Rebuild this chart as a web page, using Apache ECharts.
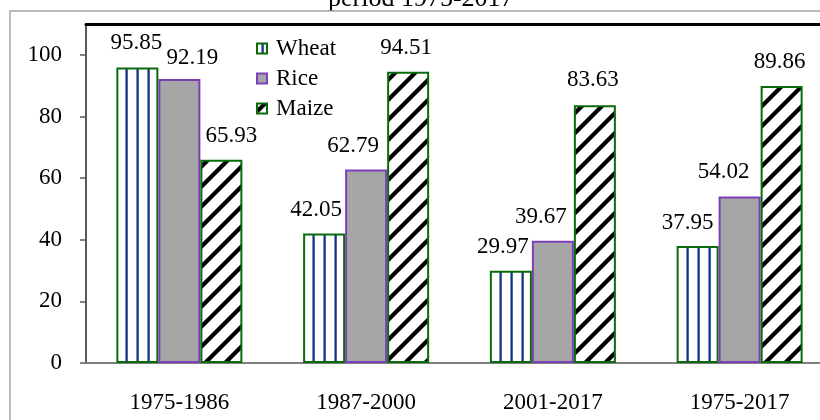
<!DOCTYPE html>
<html>
<head>
<meta charset="utf-8">
<script src="https://cdn.jsdelivr.net/npm/echarts@6/dist/echarts.min.js"></script>
<style>
  html, body { margin: 0; padding: 0; background: #fff; }
  #chart { width: 820px; height: 420px; }
</style>
</head>
<body>
<div id="chart"></div>
<script>
// data
const categories = ['1975-1986', '1987-2000', '2001-2017', '1975-2017'];
const wheat = [95.85, 42.05, 29.97, 37.95];
const rice = [92.19, 62.79, 39.67, 54.02];
const maize = [65.93, 94.51, 83.63, 89.86];
const yTicks = [0, 20, 40, 60, 80, 100];

// label nudges (excel placed some labels by hand)
const wheatOffset = [[-1, -1], [-8, 0], [-8, 0], [-10, 0]];
const riceOffset = [[13, 3], [-13, 0], [-12, 0], [-16, -1]];
const maizeOffset = [[10, 0], [-2, 0], [-2, -2], [-2, -1]];

const FONT = 'Liberation Serif';
const GREEN = '#0b6a0b';
const PURPLE = '#7d3fb8';

// vertical blue stripes
function wheatPattern() {
    let c = document.createElement('canvas');
    c.width = 11;
    c.height = 4;
    let ctx = c.getContext('2d');
    ctx.fillStyle = '#fff';
    ctx.fillRect(0, 0, 11, 4);
    ctx.fillStyle = '#7393cf';
    ctx.fillRect(4, 0, 1, 4);
    ctx.fillStyle = '#1c2f6b';
    ctx.fillRect(5, 0, 1, 4);
    ctx.fillStyle = '#4865a8';
    ctx.fillRect(6, 0, 1, 4);
    return c;
}

// diagonal black stripes, phase picked so the legend box gets one
function maizePattern() {
    let s = 20;
    let c = document.createElement('canvas');
    c.width = s;
    c.height = s;
    let ctx = c.getContext('2d');
    ctx.fillStyle = '#fff';
    ctx.fillRect(0, 0, s, s);
    ctx.strokeStyle = '#000';
    ctx.lineWidth = 4.2;
    ctx.beginPath();
    ctx.moveTo(-5, 13); ctx.lineTo(13, -5);
    ctx.moveTo(3, 25); ctx.lineTo(25, 3);
    ctx.stroke();
    return c;
}

function makeData(values, offsets) {
    return values.map(function(v, i) {
        return { value: v, label: { offset: offsets[i] } };
    });
}

function barSeries(name, values, offsets, fill, border) {
    return {
        name: name,
        type: 'bar',
        barWidth: 42,
        barGap: '0%',
        data: makeData(values, offsets),
        itemStyle: {
            color: fill,
            borderColor: border,
            borderWidth: 2
        },
        label: {
            show: true,
            position: 'top',
            distance: 12,
            fontFamily: FONT,
            fontSize: 23,
            color: '#000'
        }
    };
}

var chart = echarts.init(document.getElementById('chart'), null, { renderer: 'canvas' });
var option = {
    animation: false,
    backgroundColor: '#fff',
    title: {
        text: 'period 1975-2017',
        left: 328,
        top: -14,
        padding: 0,
        textStyle: {
            fontFamily: FONT,
            fontSize: 26,
            fontWeight: 'normal',
            color: '#000'
        }
    },
    graphic: [{
        type: 'rect',
        silent: true,
        z: 100,
        shape: { x: 10, y: 11, width: 900, height: 500 },
        style: { fill: null, stroke: '#a6a6a6', lineWidth: 1.5 }
    }],
    legend: {
        orient: 'vertical',
        left: 256,
        top: 37,
        padding: 0,
        icon: 'rect',
        itemWidth: 10,
        itemHeight: 10,
        itemGap: 7,
        textStyle: {
            fontFamily: FONT,
            fontSize: 23,
            color: '#000',
            padding: [0, 0, 0, 4]
        }
    },
    grid: {
        left: 86,
        top: 24,
        width: 747,
        height: 339,
        outerBoundsMode: 'none'
    },
    xAxis: [{
        type: 'category',
        data: categories,
        axisLine: { lineStyle: { color: '#808080', width: 2 } },
        axisTick: { length: 6, lineStyle: { color: '#808080', width: 1.5 } },
        axisLabel: {
            margin: 28,
            fontFamily: FONT,
            fontSize: 23,
            color: '#000'
        }
    }, {
        type: 'category',
        data: categories,
        position: 'top',
        axisLine: { lineStyle: { color: '#000', width: 3 } },
        axisTick: { show: false },
        axisLabel: { show: false }
    }],
    yAxis: {
        type: 'value',
        min: 0,
        max: 110,
        interval: 20,
        splitLine: { show: false },
        axisLine: { show: true, lineStyle: { color: '#595959', width: 2 } },
        axisTick: { show: true, length: 6, customValues: yTicks, lineStyle: { color: '#595959', width: 1.5 } },
        axisLabel: {
            margin: 24,
            customValues: yTicks,
            fontFamily: FONT,
            fontSize: 23,
            color: '#000'
        }
    },
    series: [
        barSeries('Wheat', wheat, wheatOffset, { image: wheatPattern(), repeat: 'repeat' }, GREEN),
        barSeries('Rice', rice, riceOffset, '#a6a6a6', PURPLE),
        barSeries('Maize', maize, maizeOffset, { image: maizePattern(), repeat: 'repeat' }, GREEN)
    ]
};
chart.setOption(option);
</script>
</body>
</html>
